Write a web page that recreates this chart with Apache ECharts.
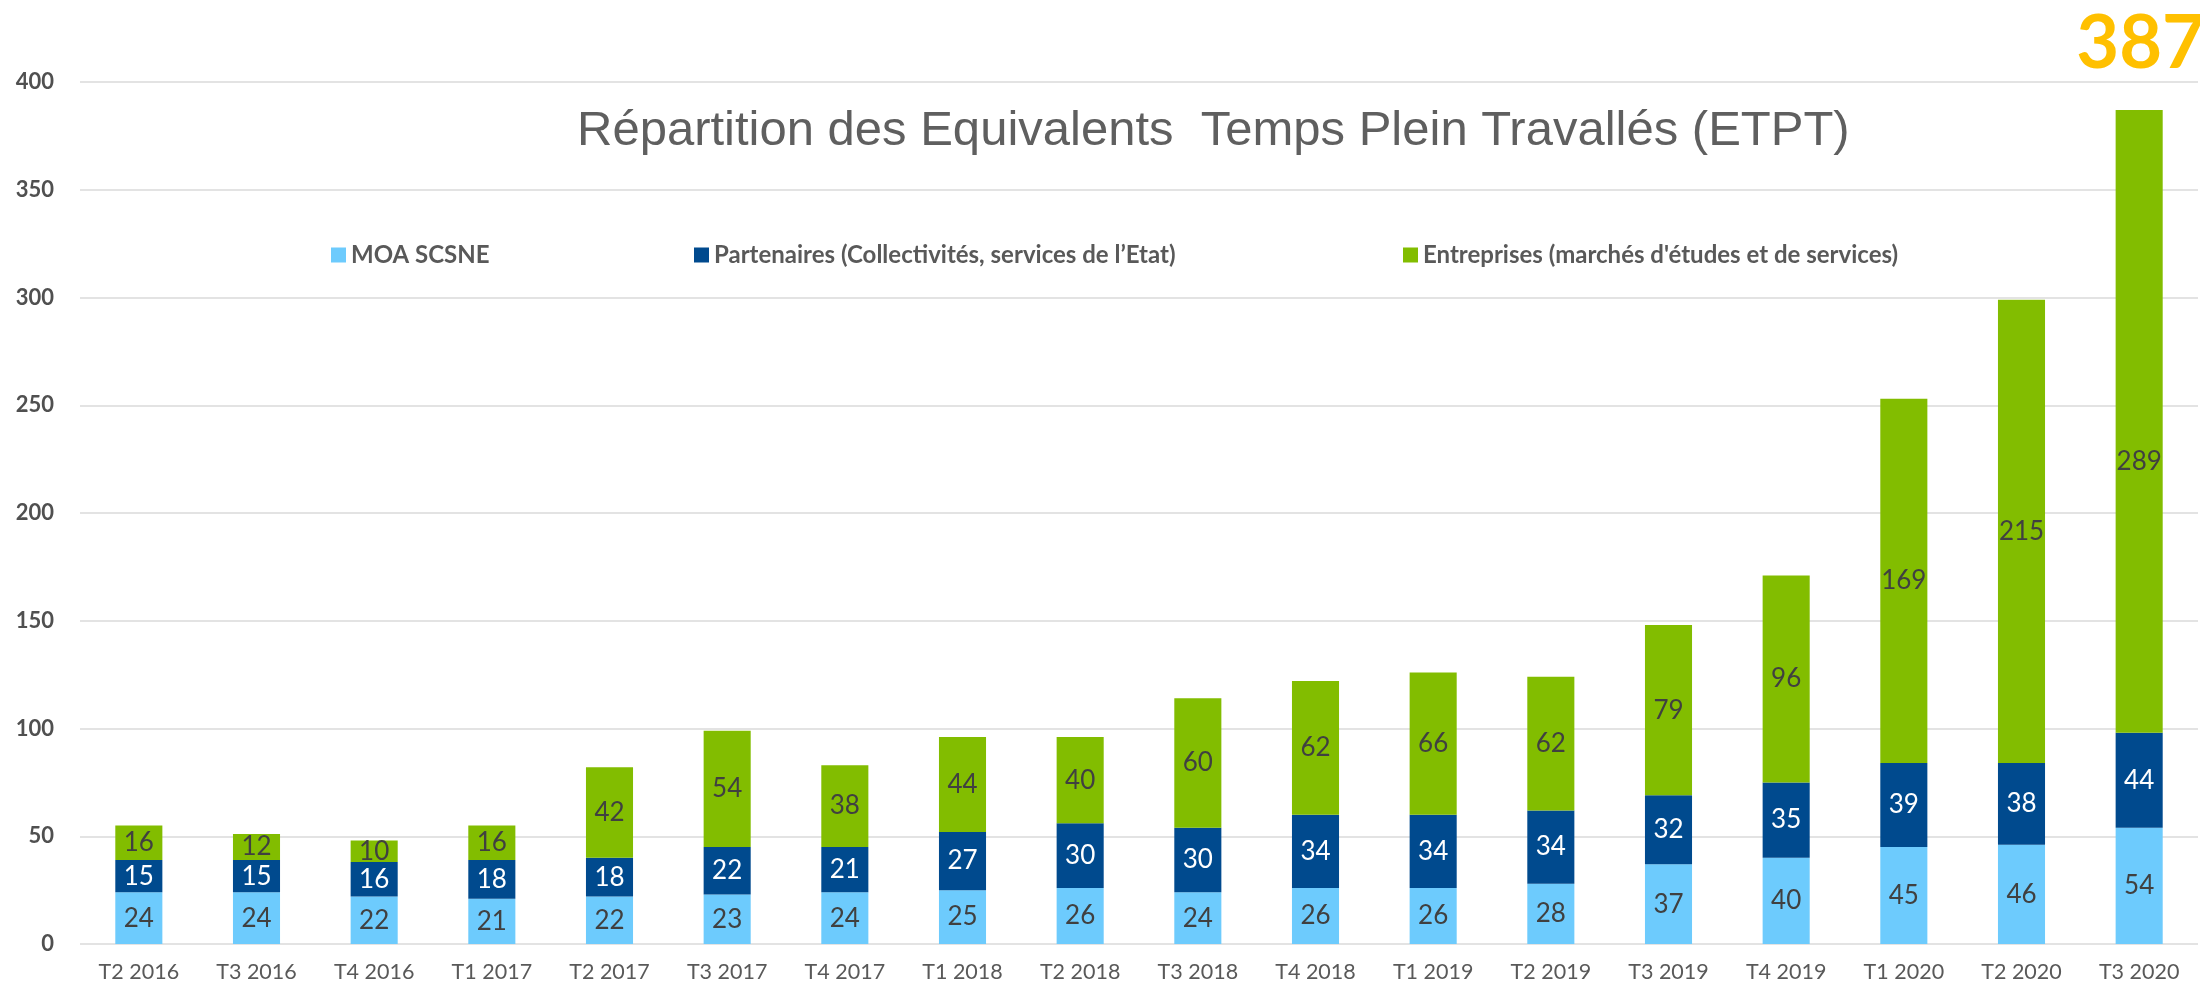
<!DOCTYPE html>
<html>
<head>
<meta charset="utf-8">
<script src="https://cdn.jsdelivr.net/npm/echarts@6/dist/echarts.min.js"></script>
<style>html,body{margin:0;padding:0;background:#fff;}#chart{width:2200px;height:986px;}</style>
</head>
<body>
<div id="chart"></div>
<script>
const categories = ['T2 2016','T3 2016','T4 2016','T1 2017','T2 2017','T3 2017','T4 2017','T1 2018','T2 2018','T3 2018','T4 2018','T1 2019','T2 2019','T3 2019','T4 2019','T1 2020','T2 2020','T3 2020'];
const seriesNames = ['MOA SCSNE', 'Partenaires (Collectivités, services de l’Etat)', 'Entreprises (marchés d\'études et de services)'];
const moa = [24,24,22,21,22,23,24,25,26,24,26,26,28,37,40,45,46,54];
const partenaires = [15,15,16,18,18,22,21,27,30,30,34,34,34,32,35,39,38,44];
const entreprises = [16,12,10,16,42,54,38,44,40,60,62,66,62,79,96,169,215,289];
const totalLabel = '387';
const yTicks = {min: 0, max: 400, interval: 50};

const colors = ['#6DCBFD', '#004A8E', '#82BD00'];
const labelColors = ['#404040', '#ffffff', '#404040'];
const FONT = 'Lato';
const legendLefts = [326, 689, 1398];

function mkSeries(name, data, idx) {
  return {
    name: name,
    type: 'bar',
    stack: 'total',
    barWidth: '40%',
    itemStyle: {color: colors[idx]},
    label: {
      show: true,
      position: 'inside',
      color: labelColors[idx],
      fontFamily: FONT,
      fontSize: 26
    },
    data: data.map((v, i) => (idx === 2 && i === data.length - 1) ? {value: v, label: {offset: [0, 40]}} : v)
  };
}

const chart = echarts.init(document.getElementById('chart'));
chart.setOption({
  animation: false,
  backgroundColor: '#ffffff',
  title: [
    {
      text: 'Répartition des Equivalents  Temps Plein Travallés (ETPT)',
      left: 572,
      top: 102,
      textStyle: {fontFamily: 'Liberation Sans', fontSize: 49, fontWeight: 'normal', color: '#5F5F5F'}
    },
    {
      text: totalLabel,
      right: -10,
      top: 2,
      textStyle: {fontFamily: FONT, fontSize: 74, fontWeight: 'bold', color: '#FFC000'}
    }
  ],
  legend: seriesNames.map((n, i) => ({
    data: [n],
    left: legendLefts[i],
    top: 238,
    itemWidth: 15,
    itemHeight: 15,
    icon: 'rect',
    textStyle: {fontFamily: FONT, fontSize: 24, fontWeight: 'bold', color: '#595959'}
  })),
  grid: {left: 80, right: 2, top: 82, bottom: 42},
  xAxis: {
    type: 'category',
    data: categories,
    axisLine: {show: false},
    axisTick: {show: false},
    axisLabel: {fontFamily: FONT, fontSize: 21.5, color: '#595959', margin: 17}
  },
  yAxis: {
    type: 'value',
    min: yTicks.min,
    max: yTicks.max,
    interval: yTicks.interval,
    axisLine: {show: false},
    axisTick: {show: false},
    axisLabel: {fontFamily: FONT, fontSize: 22, fontWeight: 'bold', color: '#505050', margin: 26},
    splitLine: {lineStyle: {color: '#E3E3E3', width: 2}}
  },
  series: [
    mkSeries(seriesNames[0], moa, 0),
    mkSeries(seriesNames[1], partenaires, 1),
    mkSeries(seriesNames[2], entreprises, 2)
  ]
});
</script>
</body>
</html>
